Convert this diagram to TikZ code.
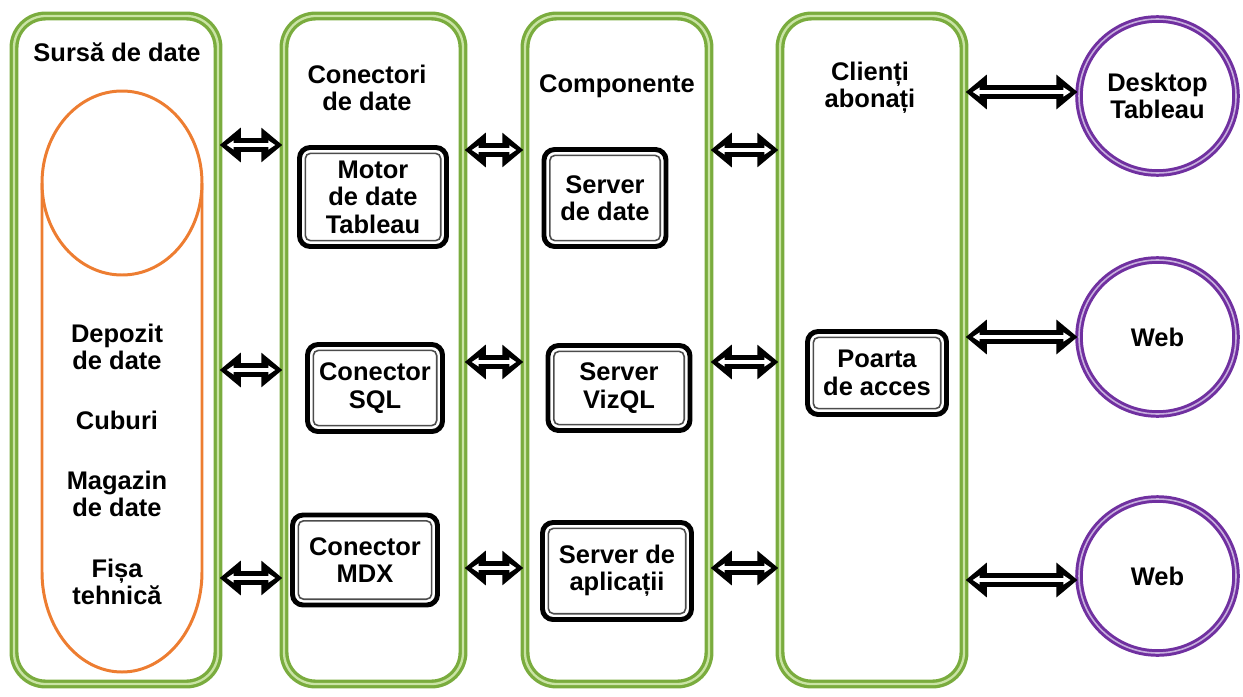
\documentclass[tikz,border=0pt]{standalone}
\usepackage{fontspec}
\setmainfont{Liberation Sans}
\usetikzlibrary{arrows.meta,shapes.geometric}

\definecolor{panelgreen}{RGB}{122,172,62}
\definecolor{panellight}{RGB}{202,228,165}
\definecolor{srcorange}{RGB}{237,125,49}
\definecolor{cltpurple}{RGB}{112,48,160}
\definecolor{cltlight}{RGB}{200,176,222}

\tikzset{
	txt/.style={align=center, font=\bfseries\fontsize{14.5}{15.6}\selectfont},
	panel/.style={draw=panelgreen, line width=1.9pt, double=panellight, double distance=1.3pt, rounded corners=18pt, inner sep=0pt},
	part/.style={txt, draw, line width=2.8pt, rounded corners=6pt, fill=white, inner sep=0pt,
		path picture={\draw[gray!60!black, line width=0.9pt, rounded corners=3pt]
			([shift={(3.3pt,3.3pt)}]path picture bounding box.south west) rectangle
			([shift={(-3.3pt,-3.3pt)}]path picture bounding box.north east);}},
	client/.style={txt, ellipse, draw=cltpurple, line width=1.7pt, double=cltlight, double distance=0.9pt, inner sep=0pt},
	dblarrow/.style={line width=7.5pt, {Triangle[length=12pt,width=19pt]}-{Triangle[length=12pt,width=19pt]},
		postaction={draw=white, line width=2.3pt, shorten <=4pt, shorten >=4pt,
			{Triangle[length=4pt,width=5pt]}-{Triangle[length=4pt,width=5pt]}}}
}

\begin{document}
\begin{tikzpicture}[x=0.02cm, y=-0.02cm]
	
	%One unit is one pixel of the picture
	\def\px{0.02cm}
	\useasboundingbox (0,0) rectangle (1243,696);
	
	%Green columns
	\node[panel, minimum width=204*\px, minimum height=668*\px] (src) at (116,350) {};
	\node[panel, minimum width=179*\px, minimum height=668*\px] (conn) at (373.5,350) {};
	\node[panel, minimum width=184*\px, minimum height=668*\px] (comp) at (617,350) {};
	\node[panel, minimum width=184*\px, minimum height=668*\px] (cli) at (872,350) {};
	
	%Column titles
	\node[txt] (srctitle) at (117,52) {Sursă de date};
	\node[txt] (conntitle) at (367,88) {Conectori\\de date};
	\node[txt] (comptitle) at (617,86) {Componente};
	\node[txt] (clititle) at (870,88) {Clienți\\abonați};
	
	%Data source drum
	\draw[srcorange, line width=1.7pt] (122,183) ellipse [x radius=80, y radius=92];
	\draw[srcorange, line width=1.7pt] (42,183) -- (42,572) arc [start angle=180, end angle=0, x radius=80, y radius=100] -- (202,183);
	
	%Data source kinds
	\node[txt] (depozit) at (117,347) {Depozit\\de date};
	\node[txt] (cuburi) at (117,420) {Cuburi};
	\node[txt] (magazin) at (117,494) {Magazin\\de date};
	\node[txt] (fisa) at (117,582) {Fișa\\tehnică};
	
	%Connectors
	\node[part, minimum width=147*\px, minimum height=99*\px] (motor) at (373,197) {Motor\\de date\\Tableau};
	\node[part, minimum width=135*\px, minimum height=87*\px] (sql) at (375,388) {Conector\\SQL};
	\node[part, minimum width=145*\px, minimum height=90*\px] (mdx) at (365,560) {Conector\\MDX};
	
	%Components
	\node[part, minimum width=122*\px, minimum height=97*\px] (sdate) at (605,198) {Server\\de date};
	\node[part, minimum width=142*\px, minimum height=85*\px] (vizql) at (619,388) {Server\\VizQL};
	\node[part, minimum width=149*\px, minimum height=97*\px] (saplic) at (617,571) {Server de\\aplicații};
	
	%Subscribed clients
	\node[part, minimum width=139*\px, minimum height=83*\px] (poarta) at (877,373) {Poarta\\de acces};
	\node[client, minimum width=157*\px, minimum height=154*\px] (desk) at (1157.5,96) {Desktop\\Tableau};
	\node[client, minimum width=157*\px, minimum height=154*\px] (web) at (1157.5,337) {Web};
	\node[client, minimum width=157*\px, minimum height=154*\px] (webb) at (1157.5,576) {Web};
	
	%Arrows, top row
	\draw[dblarrow] (src.east |- 0,145) -- (conn.west |- 0,145);
	\draw[dblarrow] (conn.east |- 0,150) -- (comp.west |- 0,150);
	\draw[dblarrow] (comp.east |- 0,150) -- (cli.west |- 0,150);
	\draw[dblarrow] (cli.east |- 0,92) -- (desk.west |- 0,92);
	
	%Arrows, middle row
	\draw[dblarrow] (src.east |- 0,370) -- (conn.west |- 0,370);
	\draw[dblarrow] (conn.east |- 0,362) -- (comp.west |- 0,362);
	\draw[dblarrow] (comp.east |- 0,362) -- (cli.west |- 0,362);
	\draw[dblarrow] (cli.east |- 0,337) -- (web.west |- 0,337);
	
	%Arrows, bottom row
	\draw[dblarrow] (src.east |- 0,578) -- (conn.west |- 0,578);
	\draw[dblarrow] (conn.east |- 0,568) -- (comp.west |- 0,568);
	\draw[dblarrow] (comp.east |- 0,568) -- (cli.west |- 0,568);
	\draw[dblarrow] (cli.east |- 0,580) -- (webb.west |- 0,580);
	
\end{tikzpicture}
\end{document}
